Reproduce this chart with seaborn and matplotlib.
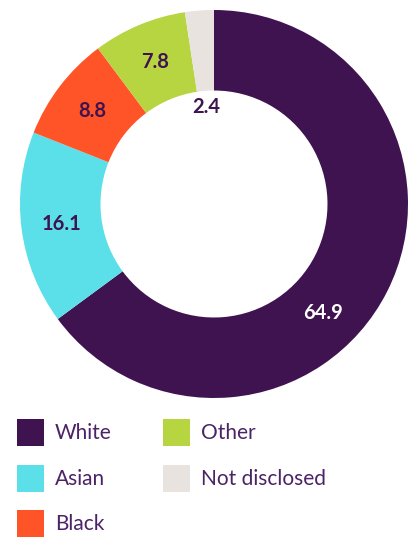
import numpy as np
import matplotlib
matplotlib.use("Agg")
import matplotlib.pyplot as plt
import seaborn as sns
from matplotlib.patches import Patch

categories = ["White", "Asian", "Black", "Other", "Not disclosed"]
values = [64.9, 16.1, 8.8, 7.8, 2.4]
value_labels = ["64.9", "16.1", "8.8", "7.8", "2.4"]
colors = ["#3E1350", "#5BE0E9", "#FF5428", "#B7D441", "#E8E3DF"]
label_colors = ["white", "#3E1350", "#3E1350", "#3E1350", "#3E1350"]

sns.set_theme(style="white")
plt.rcParams['font.family'] = ['Lato', 'DejaVu Sans']

W, H = 414, 538
fig = plt.figure(figsize=(W / 100, H / 100), dpi=100)
cx, cy, R = 214, 204, 194
ax = fig.add_axes([(cx - R) / W, (H - cy - R) / H, 2 * R / W, 2 * R / H])

ring = 0.415
wedges, _ = ax.pie(values, colors=colors, startangle=90, counterclock=False,
                   radius=1.0, wedgeprops=dict(width=ring, linewidth=0))
ax.set_xlim(-1, 1)
ax.set_ylim(-1, 1)
ax.set_aspect("equal")
ax.axis("off")

total = sum(values)
cum = np.cumsum([0] + values[:-1])
for i, (v, c0) in enumerate(zip(values, cum)):
    frac = (c0 + v / 2) / total
    ang = 90 - 360 * frac
    r = 1 - ring / 2
    if v / total < 0.04:
        r = 0.5
    if i == 0:
        ang = -45
    x, y = r * np.cos(np.deg2rad(ang)), r * np.sin(np.deg2rad(ang))
    ax.text(x, y, value_labels[i], ha="center", va="center", fontsize=14.5,
            fontweight="bold", color=label_colors[i])

handles = [Patch(facecolor=c, edgecolor="none") for c in colors]
leg = fig.legend(handles, categories, ncol=2, loc="upper left",
                 bbox_to_anchor=(17 / W, 1 - 419 / H), frameon=False,
                 fontsize=15, handlelength=1.3, handleheight=1.62,
                 handletextpad=0.53, labelspacing=0.89, columnspacing=2.45,
                 borderpad=0, borderaxespad=0)
for t in leg.get_texts():
    t.set_color("#4B2366")

fig.savefig("out.png", dpi=100)
